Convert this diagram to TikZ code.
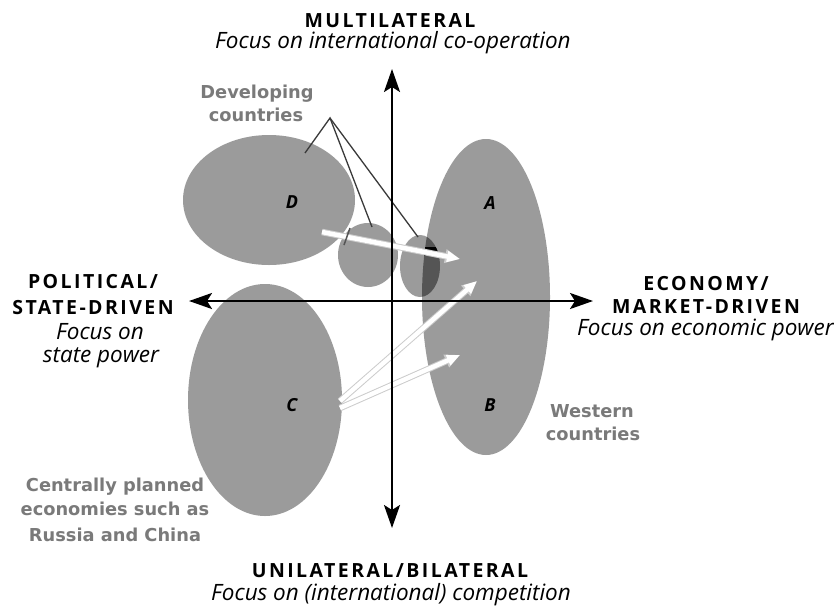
\documentclass[tikz,border=0pt]{standalone}
\usepackage{fontspec}
\setmainfont{Open Sans}
\newfontfamily\headfont[LetterSpace=12.5]{Open Sans}
\newfontfamily\groupfont{DejaVu Sans}
\usetikzlibrary{arrows.meta,shapes.geometric}
\definecolor{blobgray}{HTML}{9B9B9B}
\definecolor{deepgray}{HTML}{555555}
\definecolor{groupgray}{HTML}{7A7A7A}
\definecolor{wirecol}{HTML}{3A3A3A}

\begin{document}
\begin{tikzpicture}[x=1pt,y=-1pt,
  blob/.style={ellipse, fill=blobgray, draw=none, inner sep=0pt},
  axisline/.style={line width=2.4pt, {Stealth[length=23pt,width=16pt,inset=5pt]}-{Stealth[length=23pt,width=16pt,inset=5pt]}},
  heading/.style={font=\headfont\fontsize{19.5}{23}\selectfont\bfseries, anchor=base, inner sep=0pt},
  focus/.style={font=\fontsize{22.5}{26}\selectfont\itshape, anchor=base, inner sep=0pt},
  group/.style={font=\groupfont\fontsize{17.8}{21}\selectfont\bfseries, text=groupgray, anchor=base, inner sep=0pt},
  tag/.style={font=\fontsize{18}{21}\selectfont\bfseries\itshape, inner sep=0pt},
  wire/.style={draw=wirecol, line width=1.3pt},
  moverim/.style={draw=gray!40, line width=6.5pt, -{Triangle[length=15pt,width=13pt]}},
  mover/.style={draw=white, line width=4.5pt, -{Triangle[length=13pt,width=10.5pt]}}
]
\useasboundingbox (0,0) rectangle (834,608);
\fill[white] (0,0) rectangle (834,608);

% regions
\node[blob, minimum width=172pt, minimum height=130pt] (D) at (269,200) {};
\node[blob, minimum width=128pt, minimum height=316pt] (AB) at (486,297) {};
\node[blob, minimum width=154pt, minimum height=232pt] (C) at (265,400) {};
\node[blob, minimum width=60pt, minimum height=64pt] (d1) at (368,255) {};
\node[blob, minimum width=40pt, minimum height=62pt] (d2) at (420,266) {};

% overlap of the small region with the western region
\begin{scope}
  \clip (486,297) ellipse [x radius=64pt, y radius=158pt];
  \fill[deepgray] (420,266) ellipse [x radius=20pt, y radius=31pt];
  \clip (420,266) ellipse [x radius=20pt, y radius=31pt];
  \fill[black] (424,247) rectangle (438,256);
\end{scope}

% region letters
\node[tag] (tD) at (292,202) {D};
\node[tag] (tA) at (490,203) {A};
\node[tag] (tC) at (292,405) {C};
\node[tag] (tB) at (490,405) {B};

% pointers from the developing-countries label
\coordinate (apex) at (330,118);
\coordinate (pD) at (305,153);
\coordinate (p1) at (372,227);
\coordinate (p2) at (418,237);
\draw[wire] (pD) -- (apex) -- (p1);
\draw[wire] (apex) -- (p2);

% shifts between regions
\coordinate (s0) at (322,232);
\coordinate (e0) at (460,259);
\coordinate (s1) at (340,401);
\coordinate (e1) at (477,281);
\coordinate (s2) at (340,408);
\coordinate (e2) at (460,355);
\draw[moverim] (s0) -- (e0);
\draw[moverim] (s1) -- (e1);
\draw[moverim] (s2) -- (e2);
\draw[mover] (s0) -- (e0);
\draw[mover] (s1) -- (e1);
\draw[mover] (s2) -- (e2);
\coordinate (m0) at (350,228);
\coordinate (m1) at (344,245);
\draw[deepgray, line width=1.5pt] (m0) -- (m1);

% axes
\coordinate (top) at (392,69);
\coordinate (bottom) at (392,528);
\coordinate (left) at (189,301);
\coordinate (right) at (593,301);
\draw[axisline] (bottom) -- (top);
\draw[axisline] (left) -- (right);

% axis captions
\node[heading] (n1) at (390,27) {MULTILATERAL};
\node[focus] (n2) at (393,48) {Focus on international co-operation};
\node[heading] (w1) at (93,288) {POLITICAL/};
\node[heading] (w2) at (93,314) {STATE-DRIVEN};
\node[focus] (w3) at (100,339) {Focus on};
\node[focus] (w4) at (101,362) {state power};
\node[heading] (e1n) at (706,290) {ECONOMY/};
\node[heading] (e2n) at (706,313) {MARKET-DRIVEN};
\node[focus, anchor=base west] (e3n) at (577,335) {Focus on economic power};
\node[heading] (s1n) at (390,577) {UNILATERAL/BILATERAL};
\node[focus] (s2n) at (391,600) {Focus on (international) competition};

% group labels
\node[group] (g1) at (257,98) {Developing};
\node[group] (g2) at (256,121) {countries};
\node[group] (g3) at (592,417) {Western};
\node[group] (g4) at (593,440) {countries};
\node[group] (g5) at (115,491) {Centrally planned};
\node[group] (g6) at (115,515) {economies such as};
\node[group] (g7) at (115,541) {Russia and China};
\end{tikzpicture}
\end{document}
